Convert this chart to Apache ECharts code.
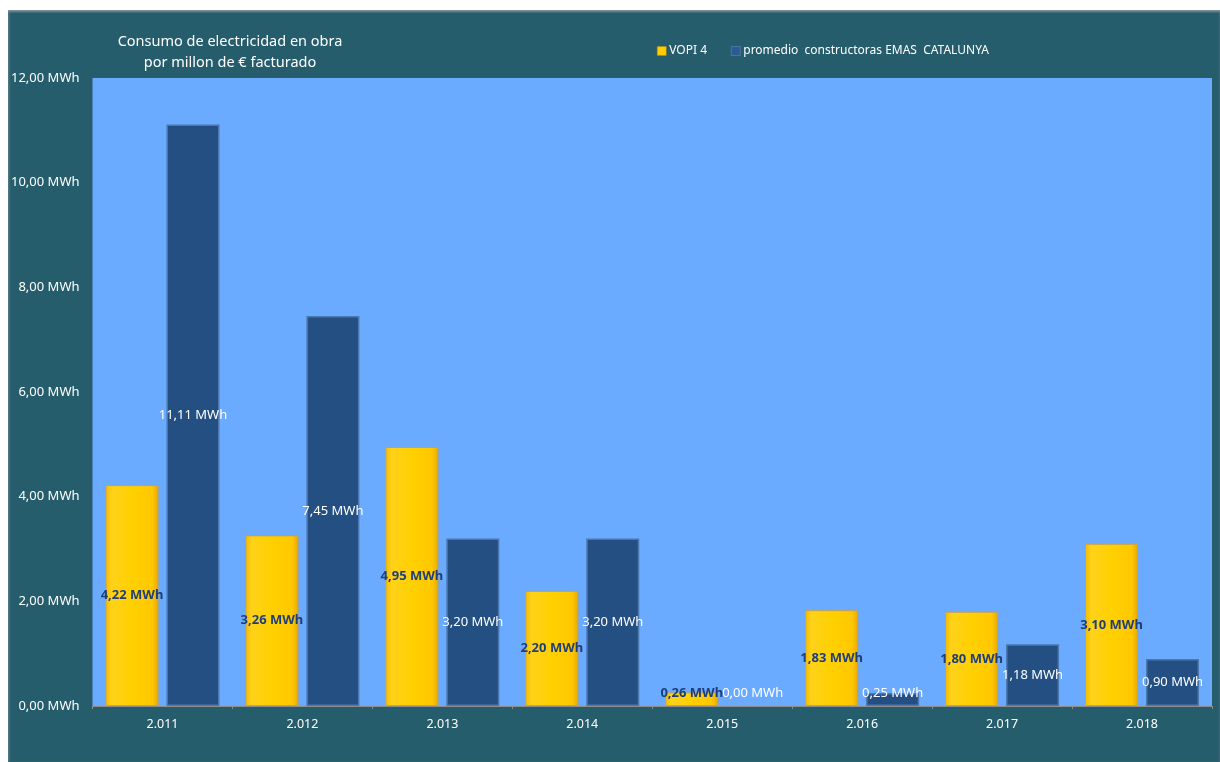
<!DOCTYPE html>
<html><head><meta charset="utf-8">
<script src="https://cdn.jsdelivr.net/npm/echarts@6/dist/echarts.min.js"></script>
<style>
html,body{margin:0;padding:0;background:#fff;width:1220px;height:762px;overflow:hidden;}
#c{position:absolute;left:8px;top:10px;width:1212px;height:752px;background:#265D6C;box-shadow:inset 0 2px 2px #7d8f95, inset 2px 0 2px #3e6f7c;}
</style></head>
<body><div id="c"></div>
<script>
const categories = ['2.011','2.012','2.013','2.014','2.015','2.016','2.017','2.018'];
const vopi = [4.22, 3.26, 4.95, 2.20, 0.26, 1.83, 1.80, 3.10];
const promedio = [11.11, 7.45, 3.20, 3.20, 0.00, 0.25, 1.18, 0.90];
const seriesNames = ['VOPI 4', 'promedio  constructoras EMAS  CATALUNYA'];
const titleLines = ['Consumo de electricidad en obra', 'por millon de € facturado'];

const fmt = v => v.toFixed(2).replace('.', ',') + ' MWh';
const FONT = 'Noto Sans';
function items(arr){
  return arr.map(v => v < 0.5 ? {value: v, label: {position: 'insideBottom', distance: 6}, itemStyle: v === 0 ? {borderWidth: 0} : undefined} : v);
}
const chart = echarts.init(document.getElementById('c'), null, {renderer:'canvas'});
chart.setOption({
  animation: false,
  textStyle: {fontFamily: FONT},
  title: {
    text: titleLines.join('\n'),
    left: 217, top: 16, textAlign: 'center',
    textStyle: {color: '#fff', fontSize: 14.5, fontWeight: 'normal', lineHeight: 21, fontFamily: FONT}
  },
  legend: {
    left: 644, top: 30, itemWidth: 9, itemHeight: 9, itemGap: 24,
    textStyle: {color: '#fff', fontSize: 12, fontFamily: FONT, padding: [0,0,0,-2]},
    data: [
      {name: seriesNames[0], icon: 'rect', itemStyle: {color: '#FFCC00', borderColor: '#b8860b', borderWidth: 0.5}},
      {name: seriesNames[1], icon: 'rect', itemStyle: {color: '#2C5A92', borderColor: '#6b8fc0', borderWidth: 0.5}}
    ]
  },
  grid: {left: 84, top: 68, width: 1120, height: 628, show: true, backgroundColor: '#6AAAFF', borderWidth: 0, containLabel: false},
  xAxis: {
    type: 'category', data: categories,
    axisLine: {lineStyle: {color: '#8d8d8d', width: 1}},
    axisTick: {show: true, length: 3, lineStyle: {color: '#8d8d8d'}},
    axisLabel: {color: '#fff', fontSize: 12.5, margin: 12, fontFamily: FONT}
  },
  yAxis: {
    type: 'value', min: 0, max: 12, interval: 2,
    splitLine: {show: false},
    axisLine: {show: false}, axisTick: {show: false},
    axisLabel: {color: '#fff', fontSize: 13, margin: 13, formatter: fmt, fontFamily: FONT}
  },
  series: [
    {
      name: seriesNames[0], type: 'bar', barWidth: 53, barGap: '15%',
      data: items(vopi),
      itemStyle: {
        color: new echarts.graphic.LinearGradient(0,0,1,0,[
          {offset:0,color:'#F2BC00'},{offset:0.12,color:'#FFD21A'},{offset:0.5,color:'#FFD000'},{offset:0.88,color:'#FFC800'},{offset:1,color:'#E7A800'}
        ]),
        borderColor: '#C8A24A', borderWidth: 1
      },
      label: {show: true, position: 'inside', formatter: p => fmt(p.value), color: '#1F3F78', fontWeight: 'bold', fontSize: 13, fontFamily: FONT}
    },
    {
      name: seriesNames[1], type: 'bar', barWidth: 53,
      data: items(promedio),
      itemStyle: {color: '#244F82', borderColor: '#4C77AE', borderWidth: 1.5},
      label: {show: true, position: 'inside', formatter: p => fmt(p.value), color: '#fff', fontSize: 13, fontFamily: FONT}
    }
  ]
});
</script></body></html>
